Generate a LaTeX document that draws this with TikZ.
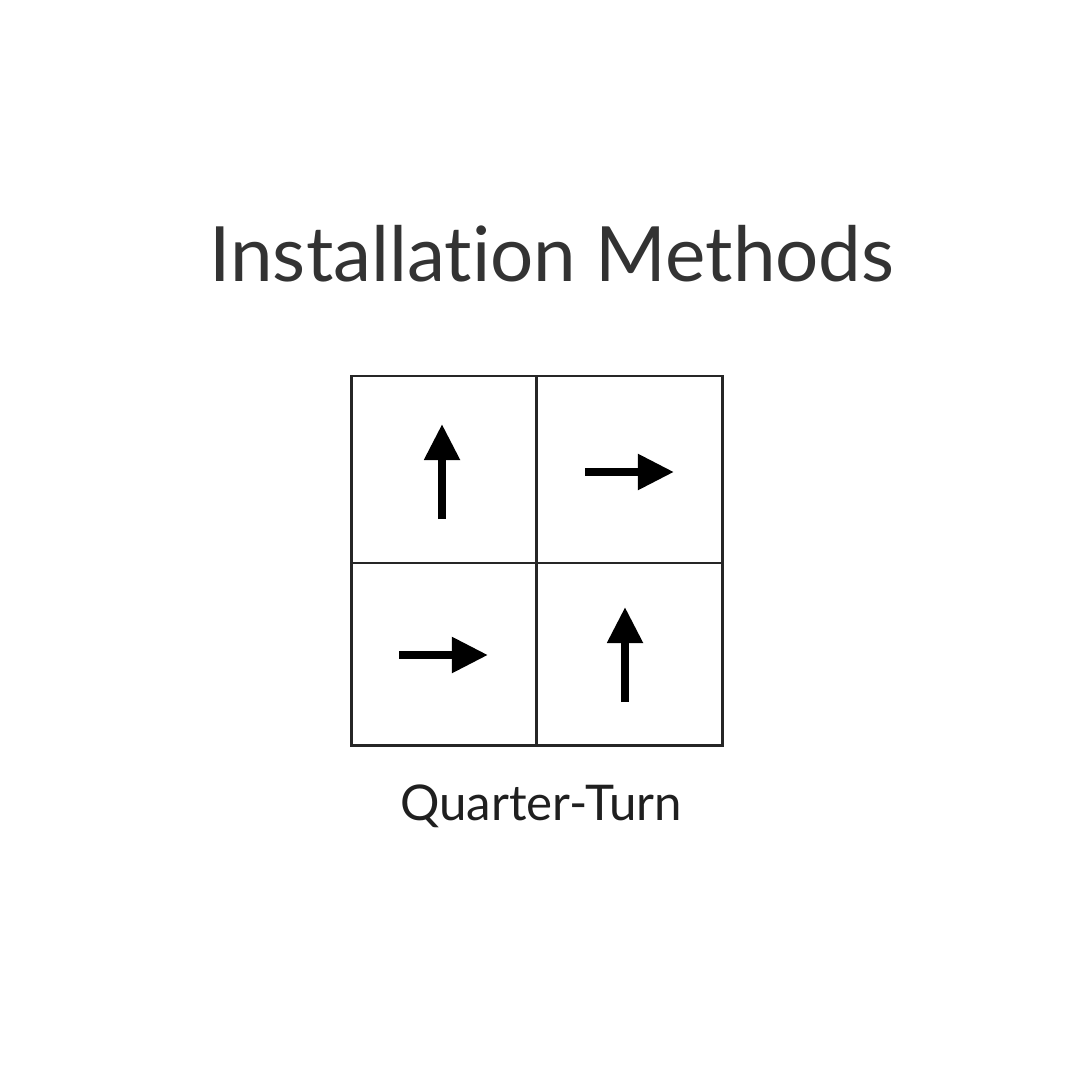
\documentclass[tikz,border=0pt]{standalone}
\usepackage{fontspec}
\setmainfont[Ligatures=NoCommon]{Lato}
\usetikzlibrary{arrows.meta}
\tikzset{
	gridline/.style={line width=0.85pt, draw=black!85},
	turnarrow/.style={line width=2.3pt, -{Triangle[length=0.36cm, width=0.34cm]}},
}
\begin{document}
\begin{tikzpicture}[x=0.01cm, y=-0.01cm]
	\useasboundingbox (0,0) rectangle (1080,1080);

	\node[text=black!80, font=\fontsize{21.7}{26}\selectfont, anchor=base] (title) at (552,282) {Installation Methods};

	% the four tiles
	\draw[gridline] (351,376) rectangle (722,745);
	\draw[gridline] (536,376) -- (536,745);
	\draw[gridline] (351,563) -- (722,563);

	\draw[turnarrow] (442,519) -- (442,424);
	\draw[turnarrow] (585,472) -- (674,472);
	\draw[turnarrow] (399,655) -- (488,655);
	\draw[turnarrow] (625,702) -- (625,607);

	\node[text=black!88, font=\fontsize{14}{17}\selectfont, anchor=base] (method) at (541,820) {Quarter-Turn};
\end{tikzpicture}
\end{document}
